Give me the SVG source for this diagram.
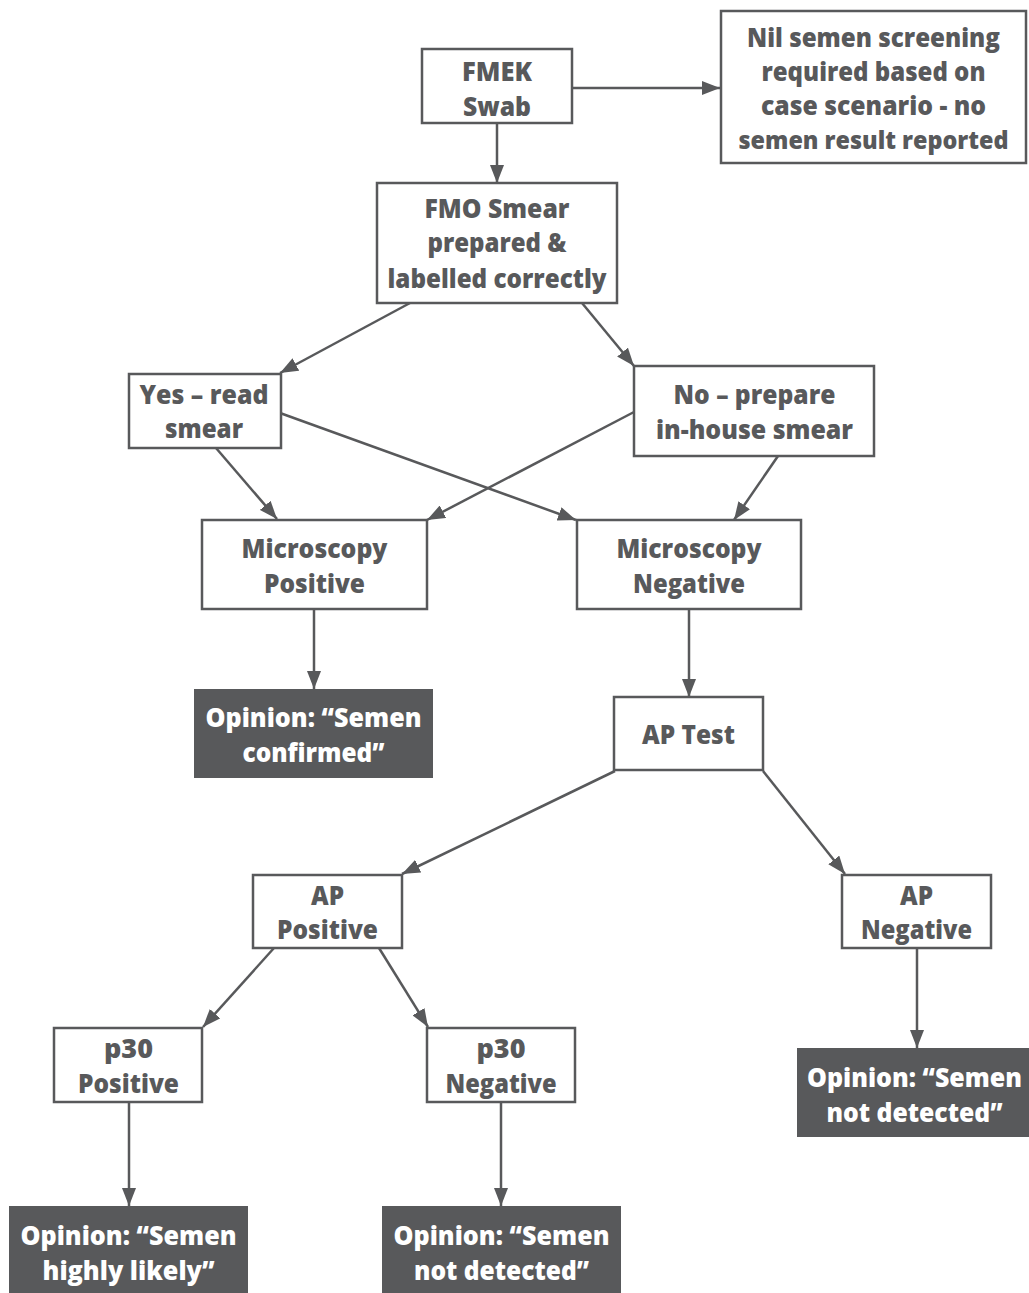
<svg xmlns="http://www.w3.org/2000/svg" width="1029" height="1293" viewBox="0 0 1029 1293">
<style>
.box{fill:#fff;stroke:#58595b;stroke-width:2.5}
.dark{fill:#58595b;stroke:none}
.t{font-family:"Open Sans","Noto Sans","Liberation Sans",sans-serif;font-weight:800;font-size:26px;fill:#58595b;text-anchor:middle}
.w{fill:#fff}
.edge{stroke:#58595b;stroke-width:2.5;fill:none;marker-end:url(#ah)}
</style>
<defs>
<marker id="ah" markerUnits="userSpaceOnUse" markerWidth="18" markerHeight="14" refX="18" refY="7" orient="auto">
<path d="M0,0 L18,7 L0,14 z" fill="#58595b"/>
</marker>
</defs>
<rect width="1029" height="1293" fill="#fff"/>
<g id="connectors">
<line class="edge" x1="572" y1="88" x2="720" y2="88"/>
<line class="edge" x1="497" y1="123" x2="497" y2="183"/>
<line class="edge" x1="410" y1="303" x2="280" y2="373"/>
<line class="edge" x1="582" y1="303" x2="634" y2="366"/>
<line class="edge" x1="216" y1="448" x2="277" y2="519"/>
<line class="edge" x1="280" y1="413" x2="576" y2="520"/>
<line class="edge" x1="634" y1="412" x2="427" y2="520"/>
<line class="edge" x1="778" y1="456" x2="734" y2="520"/>
<line class="edge" x1="314" y1="609" x2="314" y2="689"/>
<line class="edge" x1="689" y1="609" x2="689" y2="697"/>
<line class="edge" x1="615" y1="771" x2="402" y2="874"/>
<line class="edge" x1="763" y1="771" x2="845" y2="874"/>
<line class="edge" x1="274" y1="948" x2="203" y2="1027"/>
<line class="edge" x1="379" y1="948" x2="428" y2="1027"/>
<line class="edge" x1="129" y1="1102" x2="129" y2="1206"/>
<line class="edge" x1="501" y1="1102" x2="501" y2="1206"/>
<line class="edge" x1="917" y1="948" x2="917" y2="1048"/>
</g>
<g id="fmek">
<rect class="box" x="422" y="49" width="150" height="74"/>
<text class="t" x="497" y="81" textLength="70" lengthAdjust="spacingAndGlyphs">FMEK</text>
<text class="t" x="497" y="115.5" textLength="68" lengthAdjust="spacingAndGlyphs">Swab</text>
</g>
<g id="nil">
<rect class="box" x="721" y="11" width="305" height="152"/>
<text class="t" x="873.5" y="47" textLength="253" lengthAdjust="spacingAndGlyphs">Nil semen screening</text>
<text class="t" x="873.5" y="81" textLength="224" lengthAdjust="spacingAndGlyphs">required based on</text>
<text class="t" x="873.5" y="115" textLength="225" lengthAdjust="spacingAndGlyphs">case scenario - no</text>
<text class="t" x="873.5" y="149" style="font-size:24px" textLength="270" lengthAdjust="spacingAndGlyphs">semen result reported</text>
</g>
<g id="fmo">
<rect class="box" x="377" y="183" width="240" height="120"/>
<text class="t" x="497" y="218" textLength="145" lengthAdjust="spacingAndGlyphs">FMO Smear</text>
<text class="t" x="497" y="252" textLength="139" lengthAdjust="spacingAndGlyphs">prepared &amp;</text>
<text class="t" x="497" y="288" textLength="219" lengthAdjust="spacingAndGlyphs">labelled correctly</text>
</g>
<g id="yes">
<rect class="box" x="129" y="374" width="152" height="74"/>
<text class="t" x="204" y="404" textLength="129" lengthAdjust="spacingAndGlyphs">Yes – read</text>
<text class="t" x="204" y="438" textLength="78" lengthAdjust="spacingAndGlyphs">smear</text>
</g>
<g id="no">
<rect class="box" x="634" y="366" width="240" height="90"/>
<text class="t" x="754.5" y="404" textLength="162" lengthAdjust="spacingAndGlyphs">No – prepare</text>
<text class="t" x="754.5" y="439" textLength="197" lengthAdjust="spacingAndGlyphs">in-house smear</text>
</g>
<g id="micro-pos">
<rect class="box" x="202" y="520" width="225" height="89"/>
<text class="t" x="314.5" y="558" textLength="146" lengthAdjust="spacingAndGlyphs">Microscopy</text>
<text class="t" x="314.5" y="593" textLength="101" lengthAdjust="spacingAndGlyphs">Positive</text>
</g>
<g id="micro-neg">
<rect class="box" x="577" y="520" width="224" height="89"/>
<text class="t" x="689" y="558" textLength="145" lengthAdjust="spacingAndGlyphs">Microscopy</text>
<text class="t" x="689" y="593" textLength="112" lengthAdjust="spacingAndGlyphs">Negative</text>
</g>
<g id="op-confirmed">
<rect class="dark" x="194" y="689" width="239" height="89"/>
<text class="t w" x="313.5" y="727" textLength="216" lengthAdjust="spacingAndGlyphs">Opinion: “Semen</text>
<text class="t w" x="313.5" y="762" textLength="142" lengthAdjust="spacingAndGlyphs">confirmed”</text>
</g>
<g id="ap-test">
<rect class="box" x="614" y="697" width="149" height="73"/>
<text class="t" x="688.5" y="744" textLength="93" lengthAdjust="spacingAndGlyphs">AP Test</text>
</g>
<g id="ap-pos">
<rect class="box" x="253" y="875" width="149" height="73"/>
<text class="t" x="327.5" y="905" textLength="33" lengthAdjust="spacingAndGlyphs">AP</text>
<text class="t" x="327.5" y="939" textLength="101" lengthAdjust="spacingAndGlyphs">Positive</text>
</g>
<g id="ap-neg">
<rect class="box" x="842" y="875" width="149" height="73"/>
<text class="t" x="916.5" y="905" textLength="33" lengthAdjust="spacingAndGlyphs">AP</text>
<text class="t" x="916.5" y="939" textLength="111" lengthAdjust="spacingAndGlyphs">Negative</text>
</g>
<g id="p30-pos">
<rect class="box" x="54" y="1028" width="148" height="74"/>
<text class="t" x="128.5" y="1058" textLength="49" lengthAdjust="spacingAndGlyphs">p30</text>
<text class="t" x="128.5" y="1093" textLength="101" lengthAdjust="spacingAndGlyphs">Positive</text>
</g>
<g id="p30-neg">
<rect class="box" x="427" y="1028" width="148" height="74"/>
<text class="t" x="501" y="1058" textLength="49" lengthAdjust="spacingAndGlyphs">p30</text>
<text class="t" x="501" y="1093" textLength="111" lengthAdjust="spacingAndGlyphs">Negative</text>
</g>
<g id="op-not-detected-right">
<rect class="dark" x="797" y="1048" width="240" height="89"/>
<text class="t w" x="914.5" y="1087" textLength="215" lengthAdjust="spacingAndGlyphs">Opinion: “Semen</text>
<text class="t w" x="914.5" y="1122" textLength="176" lengthAdjust="spacingAndGlyphs">not detected”</text>
</g>
<g id="op-highly-likely">
<rect class="dark" x="9" y="1206" width="239" height="88"/>
<text class="t w" x="128.5" y="1245" textLength="216" lengthAdjust="spacingAndGlyphs">Opinion: “Semen</text>
<text class="t w" x="128.5" y="1280" textLength="172" lengthAdjust="spacingAndGlyphs">highly likely”</text>
</g>
<g id="op-not-detected">
<rect class="dark" x="382" y="1206" width="239" height="88"/>
<text class="t w" x="501.5" y="1245" textLength="216" lengthAdjust="spacingAndGlyphs">Opinion: “Semen</text>
<text class="t w" x="501.5" y="1280" textLength="175" lengthAdjust="spacingAndGlyphs">not detected”</text>
</g>
</svg>
